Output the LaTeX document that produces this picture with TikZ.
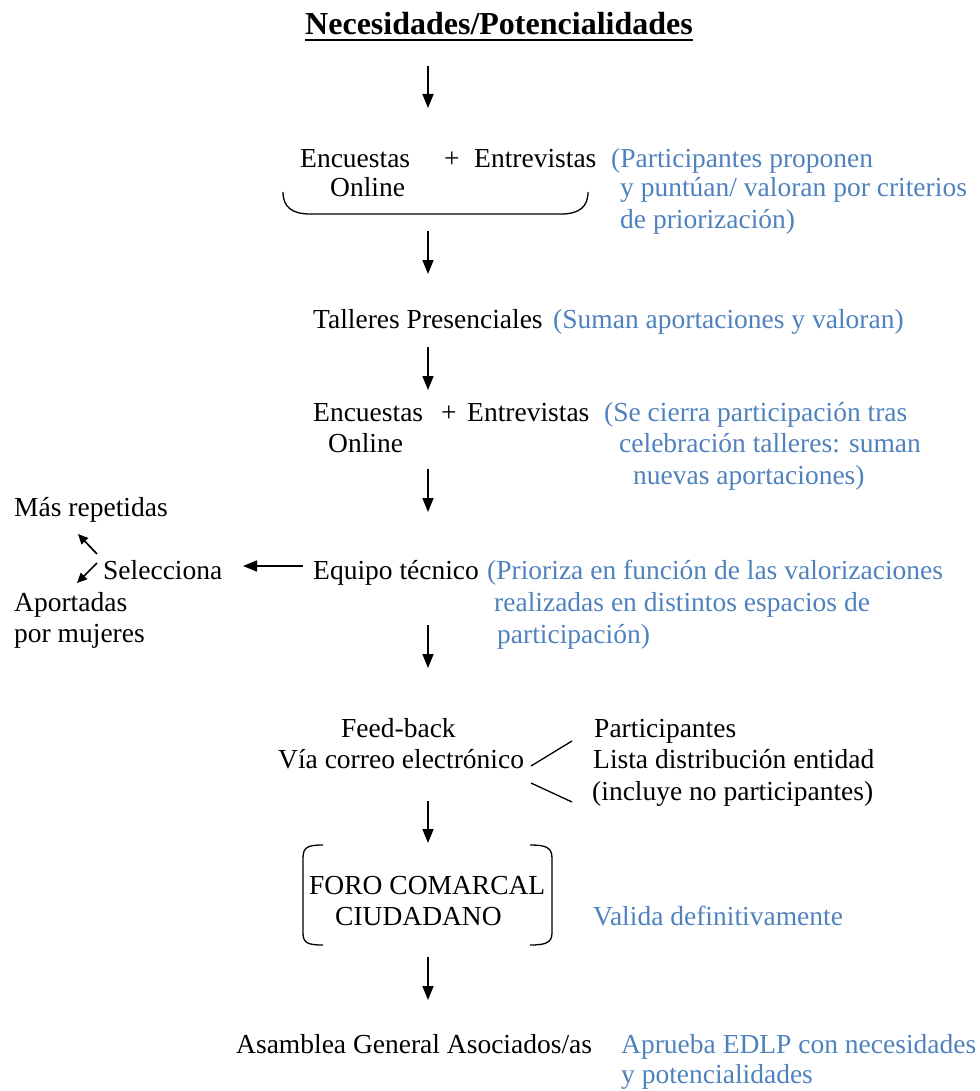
\documentclass[tikz,border=0pt]{standalone}
\usepackage{fontspec}
\setmainfont{Liberation Serif}
\usetikzlibrary{arrows.meta}
\definecolor{bluetxt}{RGB}{79,129,189}
\begin{document}
\begin{tikzpicture}[x=1pt,y=-1pt,
  txt/.style={anchor=base west,inner sep=0pt,font=\fontsize{27.5}{31}\selectfont},
  bluetext/.style={txt,text=bluetxt},
  arr/.style={-{Triangle[length=14pt,width=11pt]},line width=1.7pt},
  sarr/.style={-{Triangle[length=10pt,width=9pt]},line width=1.7pt},
  ln/.style={line width=1.3pt}]
\useasboundingbox (0,0) rectangle (979,1091);

\node[anchor=base,inner sep=0pt,font=\bfseries\fontsize{32}{36}\selectfont] (title) at (499,35) {Necesidades/Potencialidades};
\draw[line width=2pt] ([yshift=-5pt]title.base west) -- ([yshift=-5pt]title.base east);

% row 1
\node[txt] (enc1) at (300,168) {Encuestas};
\node[txt] (plus1) at (444,168) {+};
\node[txt] (ent1) at (474,168) {Entrevistas};
\node[txt] (onl1) at (330,197) {Online};
\node[bluetext] (p1a) at (611,168) {(Participantes proponen};
\node[bluetext] (p1b) at (620,197) {y puntúan/ valoran por criterios};
\node[bluetext] (p1c) at (620,229) {de priorización)};
\coordinate (brL) at (283,192);
\coordinate (brR) at (588,192);
\draw[ln] (brL) .. controls (283,207) and (292,214) .. (310,214) -- (561,214) .. controls (579,214) and (588,207) .. (brR);

% row 2
\node[txt] (tal) at (313,328) {Talleres Presenciales};
\node[bluetext] (p2) at (553,328) {(Suman aportaciones y valoran)};

% row 3
\node[txt] (enc2) at (313,421) {Encuestas};
\node[txt] (plus2) at (441,421) {+};
\node[txt] (ent2) at (467,421) {Entrevistas};
\node[txt] (onl2) at (328,452) {Online};
\node[bluetext] (p3a) at (604,421) {(Se cierra participación tras};
\node[bluetext] (p3b) at (619,452) {celebración talleres: suman};
\node[bluetext] (p3c) at (633,484) {nuevas aportaciones)};

% row 4
\node[txt] (mas) at (14,516) {Más repetidas};
\node[txt] (sel) at (103,579) {Selecciona};
\node[txt] (apo1) at (14,611) {Aportadas};
\node[txt] (apo2) at (14,642) {por mujeres};
\node[txt] (equ) at (313,579) {Equipo técnico};
\node[bluetext] (p4a) at (487,579) {(Prioriza en función de las valorizaciones};
\node[bluetext] (p4b) at (494,611) {realizadas en distintos espacios de};
\node[bluetext] (p4c) at (497,643) {participación)};
\coordinate (s1a) at (97,554);
\coordinate (s1b) at (78,534);
\coordinate (s2a) at (97,563);
\coordinate (s2b) at (77,583);
\coordinate (eqL) at (303,566);
\coordinate (seR) at (243,566);
\draw[sarr] (s1a) -- (s1b);
\draw[sarr] (s2a) -- (s2b);
\draw[arr] (eqL) -- (seR);

% row 5
\node[txt] (fee) at (341,737) {Feed-back};
\node[txt] (via) at (278,768) {Vía correo electrónico};
\node[txt] (par) at (594,737) {Participantes};
\node[txt] (lis) at (593,768) {Lista distribución entidad};
\node[txt] (inc) at (592,800) {(incluye no participantes)};
\coordinate (l1a) at (531,766);
\coordinate (l1b) at (572,741);
\coordinate (l2a) at (531,783);
\coordinate (l2b) at (572,802);
\draw[ln] (l1a) -- (l1b);
\draw[ln] (l2a) -- (l2b);

% row 6
\node[txt] (foro) at (309,894) {FORO COMARCAL};
\node[txt] (ciu) at (335,925) {CIUDADANO};
\node[bluetext] (val) at (593,925) {Valida definitivamente};
\draw[ln] (323,845) .. controls (308,845) and (303,847) .. (303,858) -- (303,933) .. controls (303,943) and (308,945) .. (323,945);
\draw[ln] (530,845) .. controls (545,845) and (552,847) .. (552,858) -- (552,933) .. controls (552,943) and (545,945) .. (530,945);

% row 7
\node[txt] (asa) at (236,1053) {Asamblea General Asociados/as};
\node[bluetext] (p7a) at (621,1053) {Aprueba EDLP con necesidades};
\node[bluetext] (p7b) at (621,1083) {y potencialidades};

% vertical arrows
\coordinate (v1a) at (428,66);  \coordinate (v1b) at (428,108);
\coordinate (v2a) at (428,231); \coordinate (v2b) at (428,274);
\coordinate (v3a) at (428,347); \coordinate (v3b) at (428,390);
\coordinate (v4a) at (428,469); \coordinate (v4b) at (428,512);
\coordinate (v5a) at (428,625); \coordinate (v5b) at (428,668);
\coordinate (v6a) at (428,801); \coordinate (v6b) at (428,843);
\coordinate (v7a) at (428,957); \coordinate (v7b) at (428,1000);
\foreach \i in {1,...,7} {\draw[arr] (v\i a) -- (v\i b);}
\end{tikzpicture}
\end{document}
